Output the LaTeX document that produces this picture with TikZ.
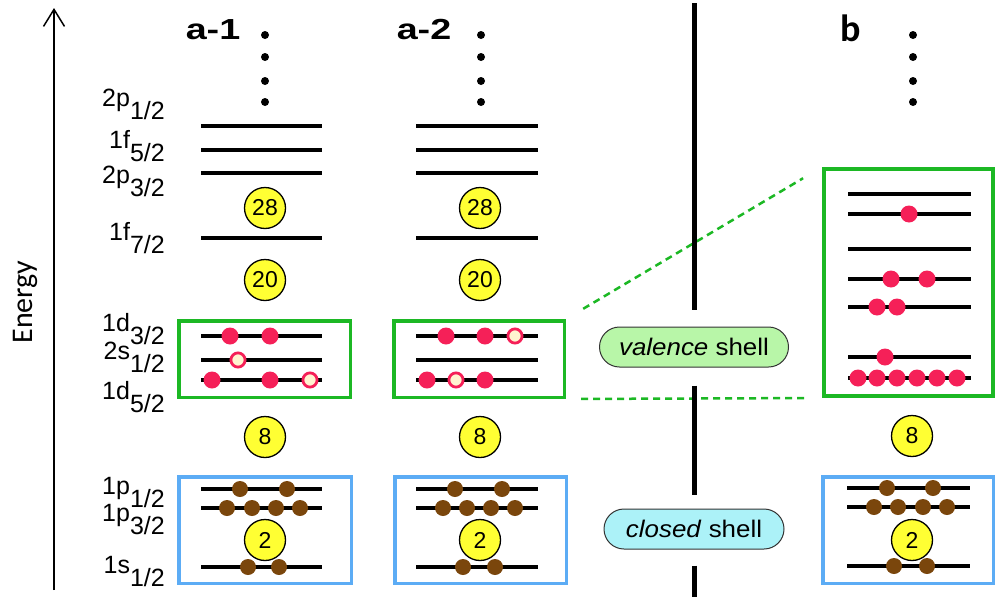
\documentclass[tikz,border=0pt]{standalone}
\usepackage{fontspec}
\setmainfont{Liberation Sans}
\newfontfamily\calibrifont{Carlito}
\usetikzlibrary{arrows.meta}

\definecolor{shellgreen}{RGB}{28,184,36}
\definecolor{shellblue}{RGB}{92,172,245}
\definecolor{protonred}{RGB}{245,32,88}
\definecolor{holecream}{RGB}{255,244,208}
\definecolor{neutronbrown}{RGB}{122,70,12}
\definecolor{magicyellow}{RGB}{255,255,51}
\definecolor{valencefill}{RGB}{184,246,168}
\definecolor{closedfill}{RGB}{172,242,248}

% slightly widened text
\newcommand\wide[1]{\scalebox{1.08}[1]{#1}}
% orbital label with a lowered j-subscript
\newcommand\orb[2]{#1\raisebox{-13pt}{#2}}

\tikzset{
  orblabel/.style={anchor=base east, inner sep=0pt, font=\fontsize{25}{28}\selectfont},
  coltitle/.style={inner sep=0pt, font=\fontsize{29}{32}\selectfont\bfseries},
  level/.style={line width=3.2pt},
  biglevel/.style={line width=4pt},
  magic/.style={circle, draw=black, line width=1.3pt, fill=magicyellow,
    minimum size=41pt, inner sep=0pt, font=\fontsize{23}{25}\selectfont},
  valbox/.style={draw=shellgreen, line width=3.5pt, inner sep=0pt},
  corebox/.style={draw=shellblue, line width=3.5pt, inner sep=0pt},
  pill/.style={draw=black!80, line width=1pt, rounded corners=20pt,
    minimum height=40pt, inner sep=0pt, font=\fontsize{24}{26}\selectfont},
  sepline/.style={line width=5pt},
  zoomline/.style={draw=shellgreen, line width=2.5pt, dash pattern=on 7pt off 5pt},
  proton/.style={fill=protonred},
  hole/.style={fill=holecream, draw=protonred, line width=2.8pt},
  neutron/.style={fill=neutronbrown},
}

\begin{document}
\begin{tikzpicture}[x=1pt, y=-1pt]
\useasboundingbox (0,0) rectangle (1003,597);

% ---------- energy axis ----------
\coordinate (axbot) at (54,590);
\coordinate (axtop) at (54,8);
\draw[line width=1.5pt, -{Straight Barb[length=17pt,width=21pt,line width=1.5pt]}] (axbot) -- (axtop);
\node[rotate=90, inner sep=0pt, font=\calibrifont\fontsize{30}{34}\selectfont] (energy) at (25,302) {Energy};

% ---------- column titles ----------
\node[coltitle] (ta1) at (213,30) {\scalebox{1.3}[1]{a-1}};
\node[coltitle] (ta2) at (424,30) {\scalebox{1.3}[1]{a-2}};
\node[inner sep=0pt, font=\calibrifont\fontsize{38}{40}\selectfont\bfseries] (tb) at (851,28) {b};

% ---------- ellipsis dots ----------
\foreach \cx in {265,481,913}
  \foreach \cy in {35,57,81,102}
    \fill (\cx,\cy) circle (4);

% ---------- orbital labels ----------
\node[orblabel] (l2p12) at (165,106) {\orb{2p}{1/2}};
\node[orblabel] (l1f52) at (165,148) {\orb{1f}{5/2}};
\node[orblabel] (l2p32) at (165,183) {\orb{2p}{3/2}};
\node[orblabel] (l1f72) at (165,240) {\orb{1f}{7/2}};
\node[orblabel] (l1d32) at (165,331) {\orb{1d}{3/2}};
\node[orblabel] (l2s12) at (165,359) {\orb{2s}{1/2}};
\node[orblabel] (l1d52) at (165,399) {\orb{1d}{5/2}};
\node[orblabel] (l1p12) at (165,494) {\orb{1p}{1/2}};
\node[orblabel] (l1p32) at (165,521) {\orb{1p}{3/2}};
\node[orblabel] (l1s12) at (165,573) {\orb{1s}{1/2}};

% ---------- shell boxes ----------
\node[valbox, minimum width=171.5pt, minimum height=76.5pt] (va1) at (264.5,359) {};
\node[valbox, minimum width=170.5pt, minimum height=76.5pt] (va2) at (479,359) {};
\node[valbox, line width=4pt, minimum width=169pt, minimum height=227pt] (vb) at (908.5,282.5) {};
\node[corebox, minimum width=172.5pt, minimum height=106.5pt] (ca1) at (265,530) {};
\node[corebox, minimum width=171.5pt, minimum height=106.5pt] (ca2) at (480.5,530) {};
\node[corebox, minimum width=170.5pt, minimum height=106.5pt] (cb) at (908,530) {};

% ---------- single-particle levels, columns a-1 and a-2 ----------
\foreach \xl/\xr in {201/322, 416/538}
  \foreach \ly in {126,150,173,238,336,360,380,489,508,567}
    \draw[level] (\xl,\ly) -- (\xr,\ly);

% ---------- levels of column b ----------
\foreach \ly in {194,214,249,279,307,357,378}
  \draw[biglevel] (848,\ly) -- (971,\ly);
\foreach \ly in {488,507,566}
  \draw[level] (847,\ly) -- (970,\ly);

% ---------- magic numbers ----------
\node[magic] (m28a) at (265,208) {28};
\node[magic] (m20a) at (265,280) {20};
\node[magic] (m8a)  at (265,437) {8};
\node[magic] (m2a)  at (265,540) {2};
\node[magic] (m28b) at (480,208) {28};
\node[magic] (m20b) at (480,280) {20};
\node[magic] (m8b)  at (480,437) {8};
\node[magic] (m2b)  at (480,540) {2};
\node[magic] (m8c)  at (912,436) {8};
\node[magic] (m2c)  at (912,540) {2};

% ---------- valence protons and holes ----------
% a-1
\foreach \p in {(230,336),(270,336),(212,380),(270,380)}
  \fill[proton] \p circle (8.5);
\foreach \p in {(238,360),(310,380)}
  \filldraw[hole] \p circle (7.1);
% a-2
\foreach \p in {(446,336),(485,336),(427,380),(485,380)}
  \fill[proton] \p circle (8.5);
\foreach \p in {(515,336),(456,380)}
  \filldraw[hole] \p circle (7.1);
% b
\foreach \p in {(909,214),(891,279),(927,279),(877,307),(897,307),(885,357),
                (858,378),(877,378),(897,378),(917,378),(937,378),(957,378)}
  \fill[proton] \p circle (8.5);

% ---------- closed-shell nucleons ----------
\foreach \p in {(240,489),(287,489),(227,508),(252,508),(276,508),(300,508),(248,567),(279,567)}
  \fill[neutron] \p circle (8);
\foreach \p in {(455,489),(502,489),(443,508),(467,508),(491,508),(515,508),(463,567),(495,567)}
  \fill[neutron] \p circle (8);
\foreach \p in {(887,488),(933,488),(874,507),(898,507),(923,507),(947,507),(894,566),(927,566)}
  \fill[neutron] \p circle (8);

% ---------- zoom lines from a-2 valence box to b ----------
\draw[zoomline, shorten <=20pt, shorten >=22pt] (va2.north east) -- (vb.north west);
\draw[zoomline, shorten <=15pt, shorten >=18pt] (va2.south east) -- (vb.south west);

% ---------- shell tags and separator ----------
\node[pill, fill=valencefill, minimum width=189pt] (valence) at (694,347) {\wide{\textit{valence} shell}};
\node[pill, fill=closedfill, minimum width=180pt] (closed) at (694,529) {\wide{\textit{closed} shell}};
\coordinate (septop) at (694,3);
\coordinate (sepbot) at (694,597);
\draw[sepline, shorten >=17pt] (septop) -- (valence.north);
\draw[sepline, shorten <=18pt, shorten >=14pt] (valence.south) -- (closed.north);
\draw[sepline, shorten <=16pt] (closed.south) -- (sepbot);
\end{tikzpicture}
\end{document}
